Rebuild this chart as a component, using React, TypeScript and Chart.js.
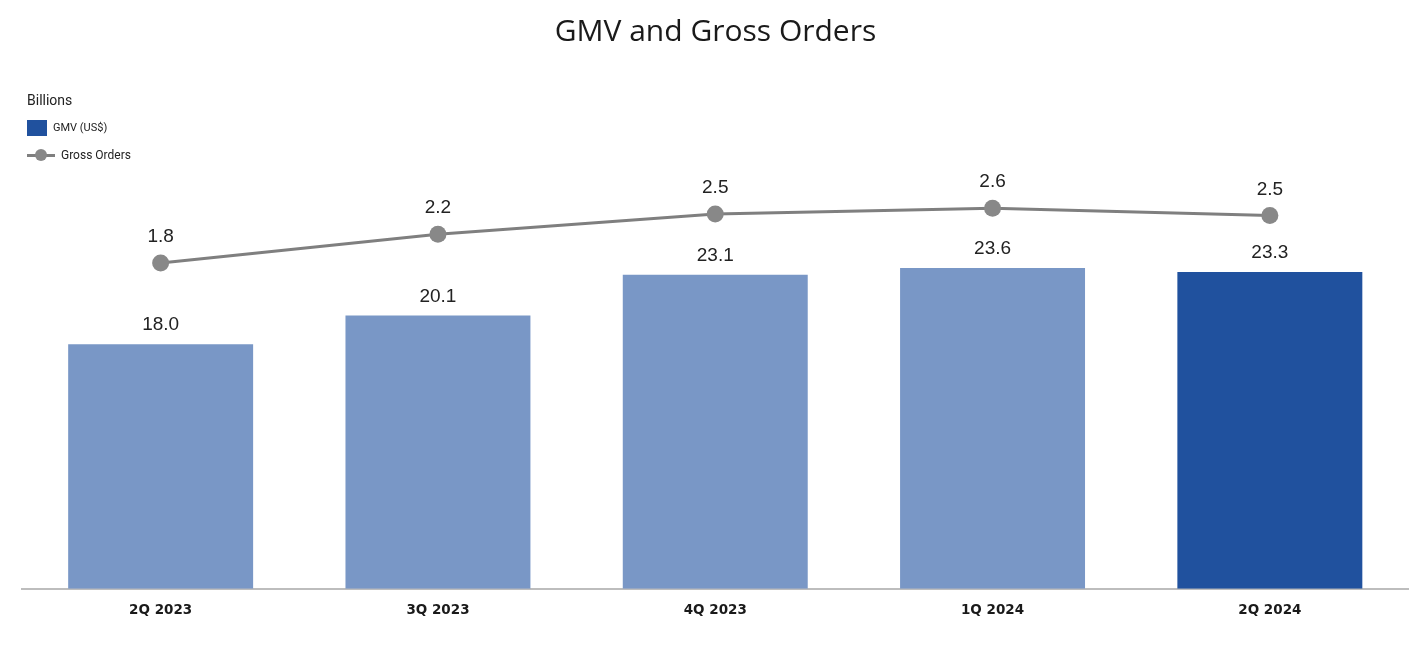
import React, { useEffect, useRef } from "react";
import { Chart, registerables } from "chart.js";

Chart.register(...registerables);

const categories = ["2Q 2023", "3Q 2023", "4Q 2023", "1Q 2024", "2Q 2024"];
const gmvValues = [18.0, 20.1, 23.1, 23.6, 23.3];
const grossOrders = [1.8, 2.2, 2.48, 2.56, 2.46];
const barColors = ["#7997c6", "#7997c6", "#7997c6", "#7997c6", "#20519e"];

const FONT = "Roboto, 'Liberation Sans', Arial, sans-serif";
const LABEL_FONT = "'Liberation Sans', Arial, sans-serif";

const labelPlugin = {
  id: "valueLabels",
  afterDatasetsDraw(chart: any) {
    const ctx = chart.ctx;
    ctx.save();
    ctx.font = `19px ${LABEL_FONT}`;
    ctx.fillStyle = "#222222";
    ctx.textAlign = "center";
    ctx.textBaseline = "middle";
    chart.data.datasets.forEach((ds: any, i: number) => {
      const meta = chart.getDatasetMeta(i);
      meta.data.forEach((el: any, j: number) => {
        const v = ds.data[j] as number;
        const off = ds.type === "line" ? 26 : 19;
        ctx.fillText(v.toFixed(1), el.x, el.y - off);
      });
    });
    ctx.restore();
  },
};

export default function App() {
  const ref = useRef<HTMLCanvasElement>(null);
  useEffect(() => {
    if (!ref.current) return;
    const chart = new Chart(ref.current, {
      type: "bar",
      data: {
        labels: categories,
        datasets: [
          {
            type: "line",
            label: "Gross Orders",
            data: grossOrders,
            yAxisID: "y2",
            borderColor: "#7f7f7f",
            borderWidth: 3,
            pointRadius: 8.5,
            pointBackgroundColor: "#888888",
            pointBorderColor: "#888888",
            pointBorderWidth: 0,
            order: 0,
          } as any,
          {
            type: "bar",
            label: "GMV (US$)",
            data: gmvValues,
            yAxisID: "y",
            backgroundColor: barColors,
            categoryPercentage: 1,
            barPercentage: 0.667,
            order: 1,
          },
        ],
      },
      options: {
        animation: false,
        responsive: true,
        maintainAspectRatio: false,
        layout: { padding: { left: 14, right: 8, top: 0, bottom: 23 } },
        plugins: {
          legend: { display: false },
          tooltip: { enabled: false },
          title: {
            display: true,
            text: "GMV and Gross Orders",
            color: "#1a1a1a",
            font: { family: "'Open Sans', Roboto, sans-serif", size: 30, weight: "normal", lineHeight: 1.2 },
            padding: { top: 6, bottom: 40 },
          },
        },
        scales: {
          x: {
            grid: { display: false, drawTicks: false },
            border: { display: true, color: "#bdbdbd", width: 2 },
            ticks: {
              color: "#1a1a1a",
              padding: 14,
              font: { family: "'DejaVu Sans', sans-serif", size: 13.5, weight: "bold", lineHeight: 1.2 },
            },
          },
          y: { display: false, min: 0, max: 36.7 },
          y2: { display: false, min: -2.728, max: 4.203, position: "right" },
        },
      },
      plugins: [labelPlugin],
    });
    return () => chart.destroy();
  }, []);

  const legendText: React.CSSProperties = {
    position: "absolute",
    fontFamily: FONT,
    color: "#222",
    whiteSpace: "nowrap",
    lineHeight: "1",
  };

  return (
    <div style={{ position: "relative", width: "1409px", height: "648px" }}>
      <canvas ref={ref} />
      <div style={{ ...legendText, left: 19, top: 85, fontSize: 14 }}>Billions</div>
      <div style={{ position: "absolute", left: 19, top: 112, width: 20, height: 16, background: "#20519e" }} />
      <div style={{ ...legendText, left: 45, top: 114, fontSize: 11 }}>GMV (US$)</div>
      <div style={{ position: "absolute", left: 19, top: 145.5, width: 28, height: 3, background: "#7f7f7f" }} />
      <div style={{ position: "absolute", left: 27, top: 141, width: 12, height: 12, borderRadius: 6, background: "#888888" }} />
      <div style={{ ...legendText, left: 53, top: 141, fontSize: 12 }}>Gross Orders</div>
    </div>
  );
}
